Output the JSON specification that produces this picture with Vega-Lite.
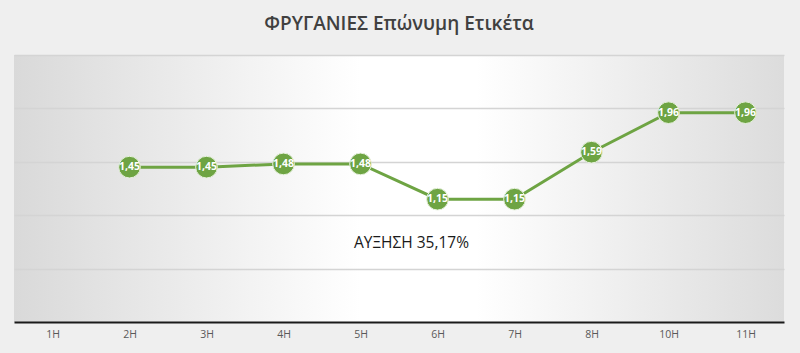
{
  "$schema": "https://vega.github.io/schema/vega-lite/v6.json",
  "autosize": "none",
  "width": 770,
  "height": 267,
  "padding": {"top": 55, "left": 14, "right": 16, "bottom": 31},
  "background": "#efefef",
  "title": {
    "text": "ΦΡΥΓΑΝΙΕΣ Επώνυμη Ετικέτα",
    "anchor": "middle",
    "font": "Open Sans",
    "fontSize": 19,
    "fontWeight": 600,
    "color": "#404040",
    "offset": 21
  },
  "config": {
    "view": {"stroke": null, "fill": {"gradient": "linear", "x1": 0, "y1": 0, "x2": 1, "y2": 0, "stops": [{"offset": 0, "color": "#d9d9d9"}, {"offset": 0.45, "color": "#ffffff"}, {"offset": 0.6, "color": "#ffffff"}, {"offset": 1, "color": "#dcdcdc"}]}},
    "locale": {"number": {"decimal": ",", "thousands": ".", "grouping": [3], "currency": ["", " €"]}}
  },
  "data": {
    "values": [
      {"hour": "1H", "value": null},
      {"hour": "2H", "value": 1.45},
      {"hour": "3H", "value": 1.45},
      {"hour": "4H", "value": 1.48},
      {"hour": "5H", "value": 1.48},
      {"hour": "6H", "value": 1.15},
      {"hour": "7H", "value": 1.15},
      {"hour": "8H", "value": 1.59},
      {"hour": "10H", "value": 1.96},
      {"hour": "11H", "value": 1.96}
    ]
  },
  "encoding": {
    "x": {
      "field": "hour",
      "type": "nominal",
      "sort": null,
      "scale": {"domain": ["1H","2H","3H","4H","5H","6H","7H","8H","10H","11H"], "paddingInner": 0, "paddingOuter": 0},
      "axis": {"title": null, "labelAngle": 0, "ticks": false, "labelColor": "#595959", "labelFont": "Open Sans", "labelFontSize": 10.5, "labelPadding": 7, "domainColor": "#1a1a1a", "domainWidth": 2, "grid": false}
    },
    "y": {
      "field": "value",
      "type": "quantitative",
      "scale": {"domain": [0, 2.5], "nice": false},
      "axis": {"title": null, "labels": false, "ticks": false, "domain": false, "values": [0.5, 1, 1.5, 2, 2.5], "gridColor": "#d4d4d4", "gridWidth": 1.5}
    }
  },
  "layer": [
    {
      "mark": {"type": "line", "color": "#6ea443", "strokeWidth": 3},
      "transform": [{"filter": "datum.value != null"}]
    },
    {
      "mark": {"type": "point", "filled": true, "size": 470, "color": "#6ea443", "stroke": "#e8f2df", "strokeWidth": 1, "opacity": 1},
      "transform": [{"filter": "datum.value != null"}]
    },
    {
      "mark": {"type": "text", "color": "white", "font": "Open Sans", "fontSize": 10.5, "fontWeight": "bold"},
      "transform": [{"filter": "datum.value != null"}],
      "encoding": {"text": {"field": "value", "type": "quantitative", "format": ".2f"}}
    },
    {
      "data": {"values": [{"note": "ΑΥΞΗΣΗ 35,17%", "hour": "6H", "value": 0.74}]},
      "mark": {"type": "text", "color": "#1a1a1a", "font": "Open Sans", "fontSize": 15.5, "dx": -26},
      "encoding": {"text": {"field": "note"}}
    }
  ]
}
